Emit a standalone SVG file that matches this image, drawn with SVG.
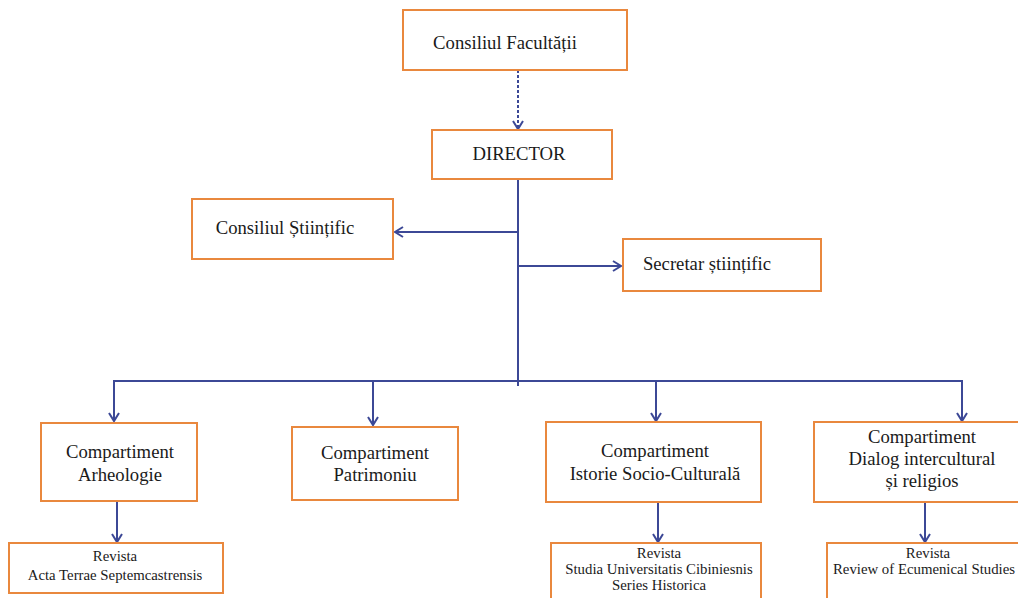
<svg xmlns="http://www.w3.org/2000/svg" width="1018" height="598" viewBox="0 0 1018 598">
<style>
.box{fill:#fff;stroke:#E9883E;stroke-width:2}
.t{font-size:18.7px;fill:#1a1a1a;text-anchor:middle}
.s{font-size:14.8px;fill:#1a1a1a;text-anchor:middle}
.c{fill:none;stroke:#3C4896;stroke-width:2}
.d{fill:none;stroke:#3C4896;stroke-width:2;stroke-dasharray:3 2}
</style>
<defs>
<marker id="a" markerWidth="12" markerHeight="12" refX="10" refY="6" orient="auto" markerUnits="userSpaceOnUse">
<path d="M2,1 L10,6 L2,11" fill="none" stroke="#3C4896" stroke-width="2"/>
</marker>
</defs>
<rect width="1018" height="598" fill="#fff"/>
<g id="connectors">
<line class="d" x1="518" y1="70" x2="518" y2="129" marker-end="url(#a)"/>
<line class="c" x1="518" y1="179" x2="518" y2="386"/>
<line class="c" x1="518" y1="232" x2="395" y2="232" marker-end="url(#a)"/>
<line class="c" x1="518" y1="266" x2="621" y2="266" marker-end="url(#a)"/>
<polyline class="c" points="114,421 114,381 962,381 962,421" marker-end="url(#a)"/>
<line class="c" x1="114" y1="381" x2="114" y2="421" marker-end="url(#a)"/>
<line class="c" x1="373" y1="381" x2="373" y2="425" marker-end="url(#a)"/>
<line class="c" x1="656" y1="381" x2="656" y2="421" marker-end="url(#a)"/>
<line class="c" x1="117" y1="502" x2="117" y2="542" marker-end="url(#a)"/>
<line class="c" x1="658" y1="503" x2="658" y2="542" marker-end="url(#a)"/>
<line class="c" x1="925" y1="503" x2="925" y2="542" marker-end="url(#a)"/>
</g>
<g font-family="'Liberation Serif', 'Times New Roman', 'DejaVu Serif', serif">
<g id="consiliul-facultatii"><rect class="box" x="403" y="10" width="224" height="60"/><text class="t" x="505" y="49">Consiliul Facultății</text></g>
<g id="director"><rect class="box" x="432" y="130" width="180" height="49"/><text class="t" x="519" y="160">DIRECTOR</text></g>
<g id="consiliul-stiintific"><rect class="box" x="192" y="199" width="201" height="60"/><text class="t" x="285" y="234">Consiliul Științific</text></g>
<g id="secretar"><rect class="box" x="623" y="239" width="198" height="52"/><text class="t" x="707" y="270">Secretar științific</text></g>
<g id="arheologie"><rect class="box" x="41" y="423" width="156" height="78"/><text class="t" x="120" y="458">Compartiment</text><text class="t" x="120" y="481">Arheologie</text></g>
<g id="patrimoniu"><rect class="box" x="292" y="427" width="166" height="73"/><text class="t" x="375" y="459">Compartiment</text><text class="t" x="375" y="481">Patrimoniu</text></g>
<g id="istorie"><rect class="box" x="546" y="422" width="215" height="80"/><text class="t" x="655" y="457">Compartiment</text><text class="t" x="655" y="480">Istorie Socio-Culturală</text></g>
<g id="dialog"><rect class="box" x="814" y="422" width="220" height="80"/><text class="t" x="922" y="443">Compartiment</text><text class="t" x="922" y="465">Dialog intercultural</text><text class="t" x="922" y="487">și religios</text></g>
<g id="revista-acta"><rect class="box" x="9" y="543" width="214" height="50"/><text class="s" x="115" y="561">Revista</text><text class="s" x="115" y="580">Acta Terrae Septemcastrensis</text></g>
<g id="revista-studia"><rect class="box" x="551" y="543" width="210" height="62"/><text class="s" x="659" y="558">Revista</text><text class="s" x="659" y="574">Studia Universitatis Cibiniesnis</text><text class="s" x="659" y="590">Series Historica</text></g>
<g id="revista-review"><rect class="box" x="827" y="543" width="210" height="62"/><text class="s" x="928" y="558">Revista</text><text class="s" x="924" y="574" font-size="14.3px">Review of Ecumenical Studies</text></g>
</g>
</svg>
